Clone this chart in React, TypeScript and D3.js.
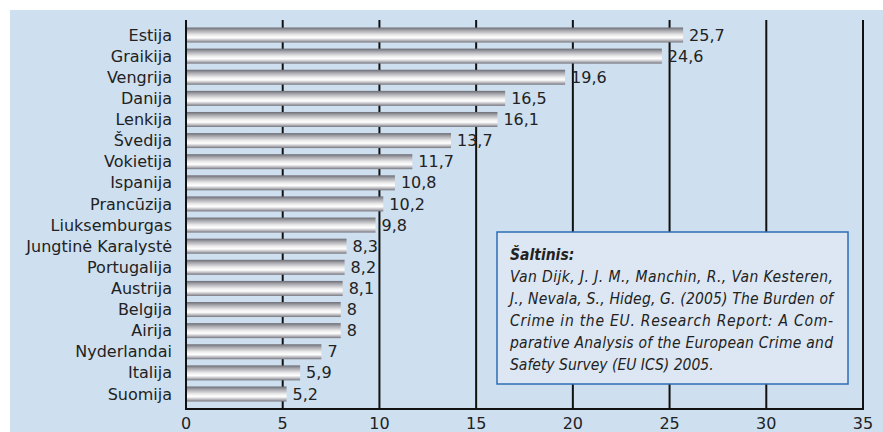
import React from 'react';
import * as d3 from 'd3';

const countries = [
  'Estija', 'Graikija', 'Vengrija', 'Danija', 'Lenkija', 'Švedija', 'Vokietija',
  'Ispanija', 'Prancūzija', 'Liuksemburgas', 'Jungtinė Karalystė', 'Portugalija',
  'Austrija', 'Belgija', 'Airija', 'Nyderlandai', 'Italija', 'Suomija',
];
const values = [25.7, 24.6, 19.6, 16.5, 16.1, 13.7, 11.7, 10.8, 10.2, 9.8, 8.3, 8.2, 8.1, 8, 8, 7, 5.9, 5.2];
const ticks = [0, 5, 10, 15, 20, 25, 30, 35];

const sourceTitle = 'Šaltinis:';
const sourceLines = [
  'Van Dijk, J. J. M., Manchin, R., Van Kesteren,',
  'J., Nevala, S., Hideg, G. (2005) The Burden of',
  'Crime in the EU. Research Report: A Com-',
  'parative Analysis of the European Crime and',
  'Safety Survey (EU ICS) 2005.',
];

const W = 883;
const H = 432;
const labelFont = { fontFamily: "'DejaVu Sans', sans-serif" };
const noteFont = { fontFamily: "'DejaVu Sans Condensed', 'DejaVu Sans', sans-serif" };
const fmt = (v: number) => String(v).replace('.', ',');

export default function App() {
  const x = d3.scaleLinear().domain([0, 35]).range([186, 863]);
  const y = d3.scaleBand<string>().domain(countries).range([20, 409])
    .paddingInner(0.29).paddingOuter(0.355);
  const bw = y.bandwidth();

  return (
    <svg width={W} height={H} style={{ display: 'block', position: 'absolute', left: 0, top: 0, ...labelFont }}>
      <defs>
        <linearGradient id="barGrad" x1="0" y1="0" x2="0" y2="1">
          <stop offset="0" stopColor="#6c6c74" />
          <stop offset="0.2" stopColor="#a6a6ad" />
          <stop offset="0.5" stopColor="#ececec" />
          <stop offset="0.68" stopColor="#ffffff" />
          <stop offset="0.85" stopColor="#bdbdc2" />
          <stop offset="1" stopColor="#74747c" />
        </linearGradient>
      </defs>
      <rect x={0} y={0} width={W} height={H} fill="#ffffff" />
      <rect x={10} y={10} width={W - 10} height={H - 10} fill="#cedff0" />

      {ticks.map(t => (
        <line key={t} x1={x(t)} x2={x(t)} y1={20} y2={410} stroke="#111" strokeWidth={2} />
      ))}
      <line x1={x(0) - 1} x2={x(35) + 1} y1={409} y2={409} stroke="#111" strokeWidth={2} />

      {countries.map((c, i) => (
        <g key={c}>
          <rect x={x(0) + 1} y={y(c)} width={x(values[i]) - x(0) - 1} height={bw} fill="url(#barGrad)" />
          <text x={172} y={(y(c) ?? 0) + bw / 2} dy="0.35em" textAnchor="end"
            style={labelFont} fontSize={16} fill="#222">{c}</text>
          <text x={x(values[i]) + 6} y={(y(c) ?? 0) + bw / 2} dy="0.35em"
            style={labelFont} fontSize={16} fill="#222">{fmt(values[i])}</text>
        </g>
      ))}

      {ticks.map(t => (
        <text key={t} x={x(t)} y={423} dy="0.35em" textAnchor="middle"
          style={labelFont} fontSize={16} fill="#222">{t}</text>
      ))}

      <rect x={497} y={232} width={351} height={152} fill="#dce7f3" stroke="#2e6db4" strokeWidth={1.5} />
      <text x={510} y={255} dy="0.35em" style={noteFont} fontSize={15.5}
        fontWeight="bold" fontStyle="italic" fill="#222">{sourceTitle}</text>
      {sourceLines.map((l, i) => (
        <text key={i} x={510} y={277 + i * 21.8} dy="0.35em" style={noteFont} fontSize={15.5}
          fontStyle="italic" fill="#222"
          {...(i < sourceLines.length - 1 ? { textLength: 323, lengthAdjust: 'spacing' } : {})}>{l}</text>
      ))}
    </svg>
  );
}
